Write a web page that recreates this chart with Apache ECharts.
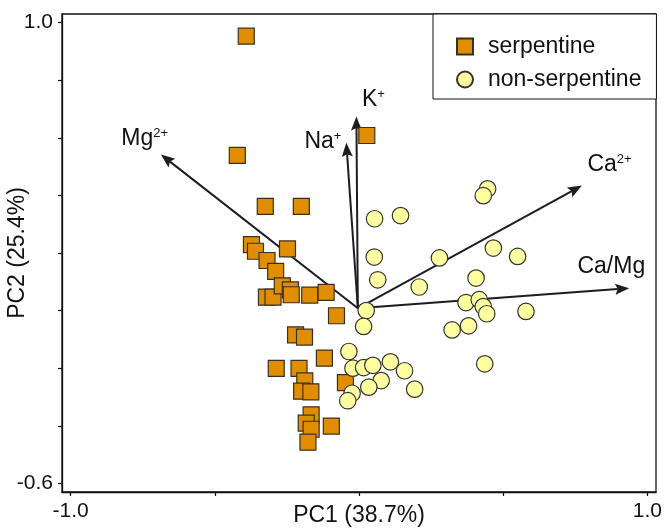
<!DOCTYPE html>
<html>
<head>
<meta charset="utf-8">
<script src="https://cdn.jsdelivr.net/npm/echarts@6/dist/echarts.min.js"></script>
<style>
html,body{margin:0;padding:0;background:#fff;}
#chart{width:665px;height:529px;}
</style>
</head>
<body>
<div id="chart"></div>
<script>
// ---- data ----
var serpX = [-0.391,-0.422,0.027,-0.325,-0.200,-0.373,-0.359,-0.248,-0.319,-0.289,-0.321,-0.298,-0.266,-0.238,-0.235,-0.171,-0.114,-0.078,-0.220,-0.189,-0.120,-0.287,-0.208,-0.188,-0.199,-0.167,-0.047,-0.166,-0.183,-0.166,-0.096,-0.177];
var serpY = [0.953,0.539,0.608,0.362,0.362,0.229,0.206,0.214,0.174,0.136,0.047,0.047,0.086,0.072,0.055,0.054,0.063,-0.018,-0.084,-0.092,-0.165,-0.201,-0.201,-0.244,-0.280,-0.282,-0.250,-0.362,-0.391,-0.412,-0.401,-0.457];
var nonX = [0.446,0.431,0.054,0.144,0.053,0.065,0.279,0.466,0.550,0.209,0.406,0.025,0.371,0.417,0.431,0.443,0.579,0.016,0.323,0.380,-0.035,-0.021,0.016,0.048,0.109,0.158,0.077,0.034,-0.024,-0.039,0.193,0.436];
var nonY = [0.423,0.399,0.319,0.330,0.186,0.107,0.183,0.217,0.188,0.082,0.113,0.000,0.028,0.038,0.014,-0.011,-0.003,-0.055,-0.067,-0.053,-0.142,-0.200,-0.198,-0.190,-0.178,-0.209,-0.243,-0.266,-0.287,-0.313,-0.273,-0.185];
var arrowNames = ['Mg','Na','K','Ca','Ca/Mg'];
var arrowSup = ['2+','+','+','2+',''];
var arrowTipX = [-0.687,-0.044,-0.009,0.773,0.937];
var arrowTipY = [0.542,0.583,0.674,0.434,0.078];
var arrowOrigin = [-0.004,0.008];
var labelX = [-0.743,-0.125,0.050,0.869,0.875];
var labelY = [0.596,0.587,0.733,0.507,0.151];
var xTicks = [-1.0,-0.5,0,0.5,1.0];
var xTickLabels = [-1.0,1.0];
var yTicks = [-0.6,-0.4,-0.2,0,0.2,0.4,0.6,0.8,1.0];
var yTickLabels = [-0.6,1.0];
var seriesNames = ['serpentine','non-serpentine'];
var xTitle = 'PC1 (38.7%)';
var yTitle = 'PC2 (25.4%)';

// ---- build ----
function zip(a,b){return a.map(function(v,i){return [v,b[i]];});}
var arrowData = arrowTipX.map(function(x,i){return [arrowOrigin[0],arrowOrigin[1],x,arrowTipY[i]];});
var labelData = labelX.map(function(x,i){return {value:[x,labelY[i]], name: arrowNames[i], sup: arrowSup[i]};});
var FONT = '"Liberation Sans", Arial, sans-serif';
var INK = '#1c1c24';

var chart = echarts.init(document.getElementById('chart'), null, {renderer:'canvas'});
chart.setOption({
  animation:false,
  backgroundColor:'#fff',
  textStyle:{fontFamily:FONT},
  grid:{left:62,right:9,top:14,bottom:37,containLabel:false,outerBoundsMode:'none',show:true,borderColor:'#111',borderWidth:1.3,backgroundColor:'transparent'},
  legend:{
    orient:'vertical', left:433, top:14,
    padding:[21,15,8,23], itemGap:10, itemWidth:16, itemHeight:16,
    borderColor:'#111', borderWidth:1, backgroundColor:'#fff',
    textStyle:{fontSize:23,color:'#111',fontFamily:FONT,padding:[0,0,0,10]},
    data:[{name:seriesNames[0],icon:'rect'},{name:seriesNames[1],icon:'circle'}]
  },
  xAxis:{
    type:'value', min:-1.03, max:1.03,
    axisLine:{show:true,onZero:false,lineStyle:{color:'#111',width:1.3}},
    axisTick:{show:true,customValues:xTicks,length:4,lineStyle:{color:'#111',width:1.2}},
    axisLabel:{show:true,customValues:xTickLabels,formatter:function(v){return v.toFixed(1);},fontSize:21,color:'#111',margin:9,fontFamily:FONT},
    splitLine:{show:false},
    name:xTitle, nameLocation:'middle', nameGap:12, nameMoveOverlap:false,
    nameTextStyle:{fontSize:23,color:'#111',fontFamily:FONT,verticalAlign:'top'}
  },
  yAxis:{
    type:'value', min:-0.63, max:1.03,
    axisLine:{show:true,onZero:false,lineStyle:{color:'#111',width:1.3}},
    axisTick:{show:true,customValues:yTicks,length:4,lineStyle:{color:'#111',width:1.2}},
    axisLabel:{show:true,customValues:yTickLabels,formatter:function(v){return v.toFixed(1);},fontSize:21,color:'#111',margin:9,fontFamily:FONT},
    splitLine:{show:false},
    name:yTitle, nameLocation:'middle', nameGap:33, nameRotate:90, nameMoveOverlap:false,
    nameTextStyle:{fontSize:23,color:'#111',fontFamily:FONT}
  },
  series:[
    {
      type:'custom', name:'arrows', z:1, silent:true,
      encode:{x:[0,2],y:[1,3]},
      data:arrowData,
      renderItem:function(params,api){
        var p0 = api.coord([api.value(0),api.value(1)]);
        var p1 = api.coord([api.value(2),api.value(3)]);
        var dx=p1[0]-p0[0], dy=p1[1]-p0[1], L=Math.sqrt(dx*dx+dy*dy);
        var ux=dx/L, uy=dy/L, nx=-uy, ny=ux;
        var hl=14, hw=5.5, notch=2.5;
        var bx=p1[0]-ux*hl, by=p1[1]-uy*hl;
        var mx=p1[0]-ux*(hl-notch), my=p1[1]-uy*(hl-notch);
        return {type:'group',children:[
          {type:'line',shape:{x1:p0[0],y1:p0[1],x2:mx,y2:my},style:{stroke:INK,lineWidth:2}},
          {type:'polygon',shape:{points:[[p1[0],p1[1]],[bx+nx*hw,by+ny*hw],[mx,my],[bx-nx*hw,by-ny*hw]]},style:{fill:INK}}
        ]};
      }
    },
    {
      type:'scatter', name:seriesNames[0], z:3, symbol:'rect', symbolSize:16,
      itemStyle:{color:'#E08E00',borderColor:'#3a3020',borderWidth:1.2,opacity:1},
      data:zip(serpX,serpY)
    },
    {
      type:'scatter', name:seriesNames[1], z:4, symbol:'circle', symbolSize:16.5,
      itemStyle:{color:'#FFFFA2',borderColor:'#333',borderWidth:1.2,opacity:1},
      data:zip(nonX,nonY)
    },
    {
      type:'scatter', name:'labels', z:6, symbolSize:0, silent:true,
      itemStyle:{opacity:1},
      data:labelData,
      label:{
        show:true, position:[0,0], align:'center', verticalAlign:'middle', opacity:1,
        formatter:function(p){return p.data.sup ? '{m|'+p.data.name+'}{s|'+p.data.sup+'}' : '{m|'+p.data.name+'}';},
        rich:{
          m:{fontSize:23,color:'#111',fontFamily:FONT,lineHeight:24},
          s:{fontSize:13,color:'#111',fontFamily:FONT,lineHeight:13,verticalAlign:'top'}
        }
      }
    }
  ]
});
</script>
</body>
</html>
